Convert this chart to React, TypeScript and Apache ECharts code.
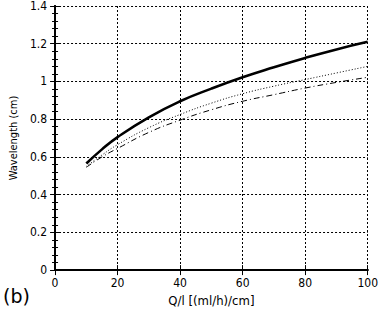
import React, { useEffect, useRef } from "react";
import * as echarts from "echarts";

const xValues = [10, 15, 20, 30, 40, 50, 60, 70, 80, 90, 100];
const solidSeries = [0.565, 0.64, 0.705, 0.81, 0.895, 0.962, 1.022, 1.075, 1.125, 1.17, 1.21];
const dottedSeries = [0.55, 0.61, 0.665, 0.755, 0.825, 0.885, 0.935, 0.975, 1.01, 1.045, 1.08];
const dashDotSeries = [0.545, 0.6, 0.645, 0.73, 0.795, 0.85, 0.895, 0.93, 0.965, 0.995, 1.022];

const FONT = "'Liberation Sans Narrow', 'DejaVu Sans Condensed', 'Noto Sans CJK JP', sans-serif";

export default function App() {
  const ref = useRef<HTMLDivElement>(null);
  useEffect(() => {
    if (!ref.current) return;
    const chart = echarts.init(ref.current, null, { renderer: "svg" });
    const pair = (ys: number[]) => xValues.map((x, i) => [x, ys[i]]);
    const axisText = { color: "#000", fontFamily: FONT, fontSize: 12 };
    chart.setOption({
      animation: false,
      backgroundColor: "#fff",
      grid: { left: 54, top: 6, right: 10, bottom: 41 },
      xAxis: [
        {
          type: "value",
          min: 0,
          max: 100,
          interval: 20,
          position: "bottom",
          name: "Q/l [(ml/h)/cm]",
          nameLocation: "middle",
          nameGap: 22,
          nameTextStyle: { ...axisText, fontSize: 13 },
          axisLine: { lineStyle: { color: "#000", width: 2 } },
          axisTick: { inside: true, length: 5, lineStyle: { color: "#000" } },
          axisLabel: { ...axisText, margin: 7 },
          splitLine: { show: true, lineStyle: { color: "#000", type: [2, 2], width: 1 } },
        },
        {
          type: "value",
          min: 0,
          max: 100,
          interval: 20,
          position: "top",
          axisLine: { lineStyle: { color: "#000", width: 2 } },
          axisTick: { inside: true, length: 5, lineStyle: { color: "#000" } },
          axisLabel: { show: false },
          splitLine: { show: false },
        },
      ],
      yAxis: [
        {
          type: "value",
          min: 0,
          max: 1.4,
          interval: 0.2,
          position: "left",
          name: "Wavelength (cm)",
          nameLocation: "middle",
          nameGap: 23,
          nameRotate: 90,
          nameTextStyle: { ...axisText, fontSize: 11 },
          axisLine: { show: true, lineStyle: { color: "#000", width: 2 } },
          axisTick: { inside: true, length: 5, lineStyle: { color: "#000" } },
          minorTick: { show: true, splitNumber: 5, length: 3, lineStyle: { color: "#000" } },
          axisLabel: { ...axisText, margin: 8, formatter: (v: number) => String(Math.round(v * 10) / 10) },
          splitLine: { show: true, lineStyle: { color: "#000", type: [2, 2], width: 1 } },
        },
        {
          type: "value",
          min: 0,
          max: 1.4,
          interval: 0.2,
          position: "right",
          axisLine: { show: true, lineStyle: { color: "#000", width: 2 } },
          axisTick: { inside: true, length: 5, lineStyle: { color: "#000" } },
          minorTick: { show: true, splitNumber: 5, length: 3, lineStyle: { color: "#000" } },
          axisLabel: { show: false },
          splitLine: { show: false },
        },
      ],
      series: [
        {
          type: "line",
          data: pair(solidSeries),
          smooth: true,
          showSymbol: false,
          lineStyle: { color: "#000", width: 2.6 },
        },
        {
          type: "line",
          data: pair(dottedSeries),
          smooth: true,
          showSymbol: false,
          lineStyle: { color: "#000", width: 1, type: [1, 2] },
        },
        {
          type: "line",
          data: pair(dashDotSeries),
          smooth: true,
          showSymbol: false,
          lineStyle: { color: "#000", width: 1, type: [6, 3, 1, 3] },
        },
      ],
      graphic: [
        {
          type: "text",
          left: 3,
          top: 286,
          style: { text: "(b)", fontSize: 19, fontFamily: "'DejaVu Sans', sans-serif", fill: "#000" },
        },
      ],
    });
    return () => chart.dispose();
  }, []);
  return <div ref={ref} style={{ width: 381, height: 312, position: "absolute", left: 0, top: 0 }} />;
}
